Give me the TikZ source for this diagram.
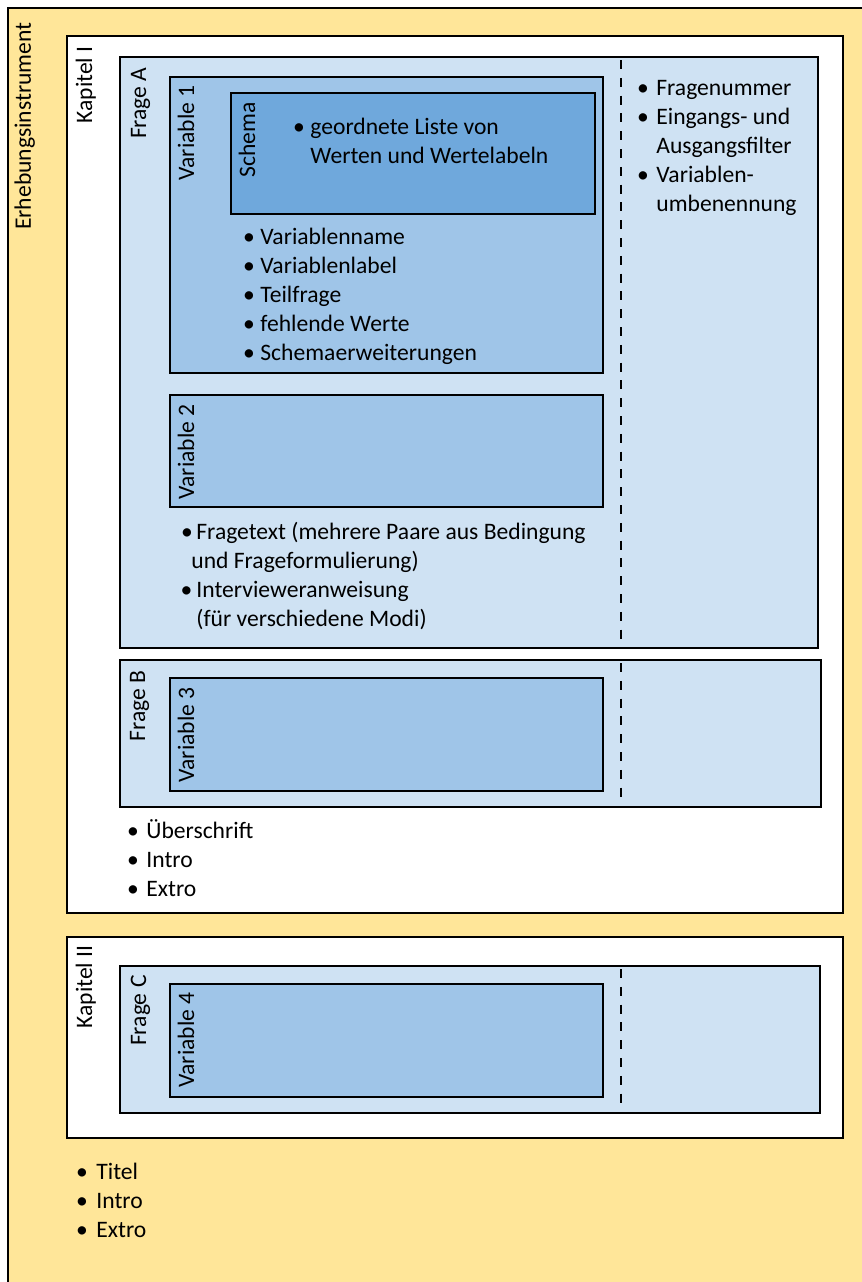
\documentclass[tikz,border=0pt]{standalone}
\usepackage{fontspec}
\setmainfont{Carlito}
\usetikzlibrary{positioning}

\definecolor{instr}{HTML}{FFE699}
\definecolor{frage}{HTML}{CFE2F3}
\definecolor{varbl}{HTML}{9FC5E8}
\definecolor{schem}{HTML}{6FA8DC}

\newcommand\bul[1][3pt]{\llap{•\hspace{#1}}}
\newcommand\blist[1]{\begin{tabular}{@{}l@{}}#1\end{tabular}}

\begin{document}
\begin{tikzpicture}[
        x=0.5pt, y=-0.5pt,
        every node/.style={font=\fontsize{11.8}{14.5}\selectfont, inner sep=0pt},
        box/.style={draw, line width=1.2pt},
        title/.style={rotate=90, anchor=base east},
        sep/.style={line width=1pt, dash pattern=on 4.5pt off 4.4pt},
        items/.style={anchor=north west}
        ]
        \useasboundingbox (0,0) rectangle (862,1282);
        \clip (0,0) rectangle (862,1282);

        % Erhebungsinstrument
        \draw[box, fill=instr] (8,8) rectangle (890,1310);
        \node[title] (erh) at (31,22) {Erhebungsinstrument};

        % Kapitel I
        \draw[box, fill=white] (67,36) rectangle (843,913);
        \node[title] (kap1) at (92,46) {Kapitel I};

        % Frage A
        \draw[box, fill=frage] (120,57) rectangle (818,648);
        \node[title] (frA) at (146,67) {Frage A};
        \draw[sep] (621,60) -- (621,645);

        \draw[box, fill=varbl] (170,77) rectangle (603,373);
        \node[title] (var1) at (194,85) {Variable 1};

        \draw[box, fill=schem] (231,93) rectangle (595,214);
        \node[title] (schema) at (255,102) {Schema};

        \draw[box, fill=varbl] (170,395) rectangle (603,507);
        \node[title] (var2) at (194,404) {Variable 2};

        % Frage B
        \draw[box, fill=frage] (120,660) rectangle (821,807);
        \node[title] (frB) at (145,670) {Frage B};
        \draw[sep] (621,663) -- (621,800);

        \draw[box, fill=varbl] (170,678) rectangle (603,791);
        \node[title] (var3) at (194,687) {Variable 3};

        % Kapitel II
        \draw[box, fill=white] (67,937) rectangle (843,1138);
        \node[title] (kap2) at (92,945) {Kapitel II};

        \draw[box, fill=frage] (120,966) rectangle (820,1113);
        \node[title] (frC) at (146,975) {Frage C};
        \draw[sep] (621,969) -- (621,1105);

        \draw[box, fill=varbl] (170,984) rectangle (603,1097);
        \node[title] (var4) at (194,992) {Variable 4};

        % Lists
        \node[items] (schemalist) at (310,113.7) {\blist{%
            \bul[2.8pt]geordnete Liste von\\
            Werten und Wertelabeln}};
        \node[items] (var1list) at (260,223.7) {\blist{%
            \bul[2.8pt]Variablenname\\
            \bul[2.8pt]Variablenlabel\\
            \bul[2.8pt]Teilfrage\\
            \bul[2.8pt]fehlende Werte\\
            \bul[2.8pt]Schemaerweiterungen}};
        \node[items] (frAright) at (656,74.7) {\blist{%
            \bul[3.8pt]Fragenummer\\
            \bul[3.8pt]Eingangs- und\\
            Ausgangsfilter\\
            \bul[3.8pt]Variablen-\\
            umbenennung}};
        \node[items] (frAlist) at (196,518.7) {\blist{%
            \bul[1.8pt]Fragetext (mehrere Paare aus Bedingung\\
            \hspace{-2.5pt}und Frageformulierung)\\
            \bul[2pt]Intervieweranweisung\\
            (für verschiedene Modi)}};
        \node[items] (kap1list) at (146,817.7) {\blist{%
            \bul[3.8pt]Überschrift\\
            \bul[3.8pt]Intro\\
            \bul[3.8pt]Extro}};
        \node[items] (erhlist) at (96,1158.7) {\blist{%
            \bul[4.3pt]Titel\\
            \bul[4.3pt]Intro\\
            \bul[4.3pt]Extro}};
    \end{tikzpicture}
\end{document}
